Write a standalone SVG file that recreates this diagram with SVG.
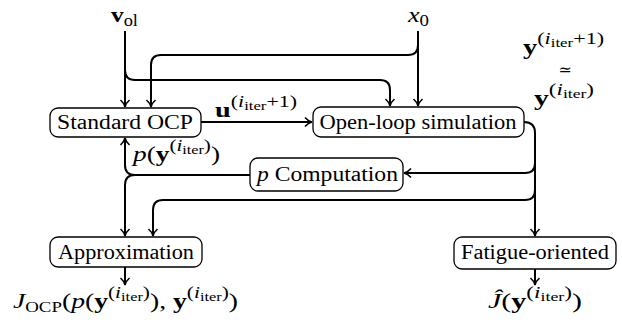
<svg xmlns="http://www.w3.org/2000/svg" width="622" height="323" viewBox="0 0 622 323">
<defs>
<style>
.box{fill:#fff;stroke:#000;stroke-width:1.3}
.lbl{font-family:'Liberation Serif','DejaVu Serif',serif;font-size:20px;fill:#000}
.m{font-family:'Liberation Serif','DejaVu Serif',serif;fill:#000}
.it{font-style:italic}
.b{font-weight:bold}
.conn{fill:none;stroke:#000;stroke-width:2}
</style>
<marker id="ar" viewBox="0 0 12 12" refX="10" refY="6" markerWidth="12" markerHeight="12" markerUnits="userSpaceOnUse" orient="auto">
<path d="M3,1.5 Q6,5 10,6 Q6,7 3,10.5" fill="none" stroke="#000" stroke-width="1.6"/>
</marker>
</defs>
<rect width="622" height="323" fill="#fff"/>
<g id="connectors" class="conn">
<path d="M125,31 V107" marker-end="url(#ar)"/>
<path d="M418,31 V106" marker-end="url(#ar)"/>
<path d="M418,45 Q418,55 408,55 H161 Q151,55 151,65 V107" marker-end="url(#ar)"/>
<path d="M125,70 Q125,80 135,80 H380 Q390,80 390,90 V106" marker-end="url(#ar)"/>
<path d="M201,122 H312" marker-end="url(#ar)"/>
<path d="M524,122 Q535,122 535,133 V236" marker-end="url(#ar)"/>
<path d="M535,163 Q535,173 525,173 H404" marker-end="url(#ar)"/>
<path d="M535,190 Q535,200 525,200 H163 Q153,200 153,210 V236" marker-end="url(#ar)"/>
<path d="M250,175 H135 Q125,175 125,165 V138" marker-end="url(#ar)"/>
<path d="M135,175 Q125,175 125,185 V236" marker-end="url(#ar)"/>
<path d="M125,267 V285" marker-end="url(#ar)"/>
<path d="M535,269 V285" marker-end="url(#ar)"/>
</g>
<g id="standard-ocp">
<rect class="box" x="50" y="108" width="151" height="29" rx="8"/>
<text class="lbl" x="125" y="129" text-anchor="middle" textLength="136" lengthAdjust="spacingAndGlyphs">Standard OCP</text>
</g>
<g id="open-loop-simulation">
<rect class="box" x="313" y="107" width="211" height="30" rx="8"/>
<text class="lbl" x="418" y="129" text-anchor="middle" textLength="197" lengthAdjust="spacingAndGlyphs">Open-loop simulation</text>
</g>
<g id="p-computation">
<rect class="box" x="250" y="158" width="153" height="33" rx="8"/>
<text class="lbl" x="257" y="181" textLength="141" lengthAdjust="spacingAndGlyphs"><tspan class="it">p</tspan> Computation</text>
</g>
<g id="approximation">
<rect class="box" x="50" y="237" width="152" height="30" rx="8"/>
<text class="lbl" x="126" y="259" text-anchor="middle" textLength="136" lengthAdjust="spacingAndGlyphs">Approximation</text>
</g>
<g id="fatigue-oriented">
<rect class="box" x="454" y="237" width="162" height="32" rx="8"/>
<text class="lbl" x="535" y="259" text-anchor="middle" textLength="148" lengthAdjust="spacingAndGlyphs">Fatigue-oriented</text>
</g>
<g id="labels">
<text class="m" x="111" y="22" font-size="22" textLength="27" lengthAdjust="spacingAndGlyphs"><tspan class="b">v</tspan><tspan font-size="16" y="26">ol</tspan></text>
<text class="m" x="408" y="22" font-size="22" textLength="21" lengthAdjust="spacingAndGlyphs"><tspan class="it">x</tspan><tspan font-size="16" y="26">0</tspan></text>
<text class="m" x="215" y="117" font-size="22" textLength="82" lengthAdjust="spacingAndGlyphs"><tspan class="b">u</tspan><tspan font-size="17" y="107">(</tspan><tspan class="it" font-size="17">i</tspan><tspan font-size="13" y="110">iter</tspan><tspan font-size="17" y="107">+1)</tspan></text>
<text class="m" x="133" y="161" font-size="22" textLength="87" lengthAdjust="spacingAndGlyphs"><tspan class="it">p</tspan>(<tspan class="b">y</tspan><tspan font-size="17" y="151">(</tspan><tspan class="it" font-size="17">i</tspan><tspan font-size="13" y="154">iter</tspan><tspan font-size="17" y="151">)</tspan><tspan y="161">)</tspan></text>
<text class="m" x="523" y="54" font-size="22" textLength="81" lengthAdjust="spacingAndGlyphs"><tspan class="b">y</tspan><tspan font-size="17" y="44">(</tspan><tspan class="it" font-size="17">i</tspan><tspan font-size="13" y="47">iter</tspan><tspan font-size="17" y="44">+1)</tspan></text>
<text class="m" x="565" y="75" font-size="16" text-anchor="middle">≃</text>
<text class="m" x="534" y="105" font-size="22" textLength="60" lengthAdjust="spacingAndGlyphs"><tspan class="b">y</tspan><tspan font-size="17" y="95">(</tspan><tspan class="it" font-size="17">i</tspan><tspan font-size="13" y="98">iter</tspan><tspan font-size="17" y="95">)</tspan></text>
<text class="m" x="13" y="308" font-size="22" textLength="225" lengthAdjust="spacingAndGlyphs"><tspan class="it">J</tspan><tspan font-size="15" y="312">OCP</tspan><tspan y="308">(</tspan><tspan class="it">p</tspan>(<tspan class="b">y</tspan><tspan font-size="17" y="298">(</tspan><tspan class="it" font-size="17">i</tspan><tspan font-size="13" y="301">iter</tspan><tspan font-size="17" y="298">)</tspan><tspan y="308">), </tspan><tspan class="b">y</tspan><tspan font-size="17" y="298">(</tspan><tspan class="it" font-size="17">i</tspan><tspan font-size="13" y="301">iter</tspan><tspan font-size="17" y="298">)</tspan><tspan y="308">)</tspan></text>
<text class="m" x="488" y="308" font-size="22" textLength="94" lengthAdjust="spacingAndGlyphs"><tspan class="it">Ĵ</tspan>(<tspan class="b">y</tspan><tspan font-size="17" y="298">(</tspan><tspan class="it" font-size="17">i</tspan><tspan font-size="13" y="301">iter</tspan><tspan font-size="17" y="298">)</tspan><tspan y="308">)</tspan></text>
</g>
</svg>
